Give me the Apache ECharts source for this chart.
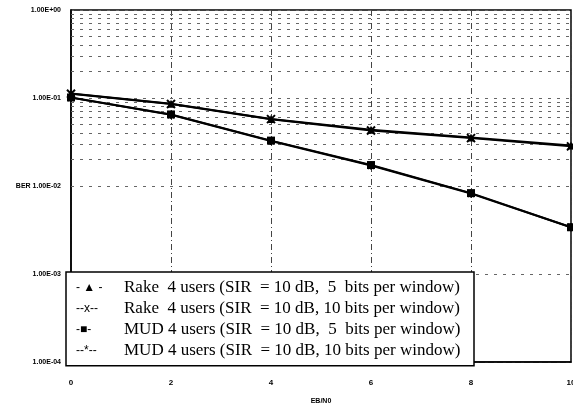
<!DOCTYPE html>
<html>
<head>
    <title>BER vs EB/N0</title>
    <script src="https://cdn.jsdelivr.net/npm/echarts@6/dist/echarts.min.js"></script>
</head>
<body style="margin:0; background:#fff;">
    <div id="chart" style="width: 573px; height: 403px;"></div>
    <script>
        // values
        var ebno = [0, 2, 4, 6, 8, 10];
        var rake5 = [0.1125, 0.0862, 0.0578, 0.0435, 0.0356, 0.0288];
        var rake10 = [0.1120, 0.0856, 0.0575, 0.0428, 0.0350, 0.0282];
        var mud5 = [0.1014, 0.0650, 0.0328, 0.0173, 0.0083, 0.0034];
        var mud10 = [0.1010, 0.0645, 0.0325, 0.0171, 0.0082, 0.0034];
        var seriesNames = [
            'Rake  4 users (SIR  = 10 dB,  5  bits per window)',
            'Rake  4 users (SIR  = 10 dB, 10 bits per window)',
            'MUD 4 users (SIR  = 10 dB,  5  bits per window)',
            'MUD 4 users (SIR  = 10 dB, 10 bits per window)'
        ];
        var legendMarks = ['- \u25B2 -', '--x--', '-\u25A0-', '--*--'];
        var symbols = ['triangle', 'path://M0,0L10,10M10,0L0,10', 'rect', 'path://M5,0L5,10M0,5L10,5M1,1L9,9M9,1L1,9'];
        // minor log grid (2..9 per decade)
        var minorGrid = [];
        [1e-4, 1e-3, 1e-2, 1e-1].forEach(function (d) {
            for (var k = 2; k <= 9; k++) minorGrid.push(+(k * d).toPrecision(2));
        });

        function sci(v) {
            var e = Math.round(Math.log10(v));
            var s = (e < 0 ? '-' : '+') + (Math.abs(e) < 10 ? '0' : '') + Math.abs(e);
            return '1.00E' + s;
        }

        var chart = echarts.init(document.querySelector('#chart'));
        var dataSets = [rake5, rake10, mud5, mud10];
        var series = dataSets.map(function (vals, i) {
            return {
                name: seriesNames[i],
                type: 'line',
                data: ebno.map(function (x, j) { return [x, vals[j]]; }),
                symbol: symbols[i],
                symbolSize: 8,
                showSymbol: true,
                lineStyle: { color: '#000', width: 2 },
                itemStyle: { color: '#000', borderColor: '#000', borderWidth: i % 2 ? 2 : 0 },
                z: 5
            };
        });
        series[0].markLine = {
            silent: true,
            symbol: 'none',
            label: { show: false },
            lineStyle: { color: '#666', type: [3, 6], width: 1 },
            data: minorGrid.map(function (v) { return { yAxis: v }; }),
            z: 1
        };

        var option = {
            animation: false,
            backgroundColor: '#fff',
            grid: {
                left: 71, right: 2, top: 10, bottom: 41,
                outerBoundsMode: 'none',
                containLabel: false,
                show: true, borderColor: '#000', borderWidth: 1.5
            },
            xAxis: {
                type: 'value',
                min: 0, max: 10, interval: 2,
                name: 'EB/N0',
                nameLocation: 'middle',
                nameGap: 29,
                nameTextStyle: { fontFamily: 'Liberation Sans', fontWeight: 'bold', fontSize: 7, color: '#000' },
                axisLine: { lineStyle: { color: '#000', width: 1.5 } },
                axisTick: { show: false },
                axisLabel: { color: '#000', fontFamily: 'Liberation Sans', fontWeight: 'bold', fontSize: 8, margin: 14 },
                splitLine: { show: true, lineStyle: { color: '#444', type: [6, 3, 1, 3], width: 1 } }
            },
            yAxis: {
                type: 'log',
                logBase: 10,
                min: 1e-4, max: 1,
                axisLine: { show: true, lineStyle: { color: '#000', width: 1.5 } },
                axisTick: { show: false },
                axisLabel: {
                    color: '#000', fontFamily: 'Liberation Sans', fontWeight: 'bold', fontSize: 7, margin: 10,
                    formatter: function (v) {
                        var t = sci(v);
                        return Math.abs(v - 0.01) < 1e-9 ? 'BER ' + t : t;
                    }
                },
                splitLine: { show: true, lineStyle: { color: '#666', type: [3, 6], width: 1 } }
            },
            legend: {
                orient: 'vertical',
                left: 66, top: 272,
                backgroundColor: '#fff',
                borderColor: '#000',
                borderWidth: 1.5,
                padding: [3, 4, 2, 4],
                itemGap: -5,
                itemWidth: 0,
                itemHeight: 0,
                icon: 'rect',
                selectedMode: false,
                data: seriesNames,
                formatter: function (name) {
                    var i = seriesNames.indexOf(name);
                    return '{m|' + legendMarks[i] + '}{t|' + name + '}';
                },
                textStyle: {
                    color: '#000',
                    fontSize: 17,
                    lineHeight: 21,
                    rich: {
                        m: { width: 48, fontFamily: 'Liberation Sans', fontSize: 12, lineHeight: 21, height: 21, color: '#000' },
                        t: { width: 346, fontFamily: 'Liberation Serif', fontSize: 17, lineHeight: 21, height: 21, color: '#000' }
                    }
                },
                z: 10
            },
            series: series
        };
        chart.setOption(option);
    </script>
</body>
</html>
